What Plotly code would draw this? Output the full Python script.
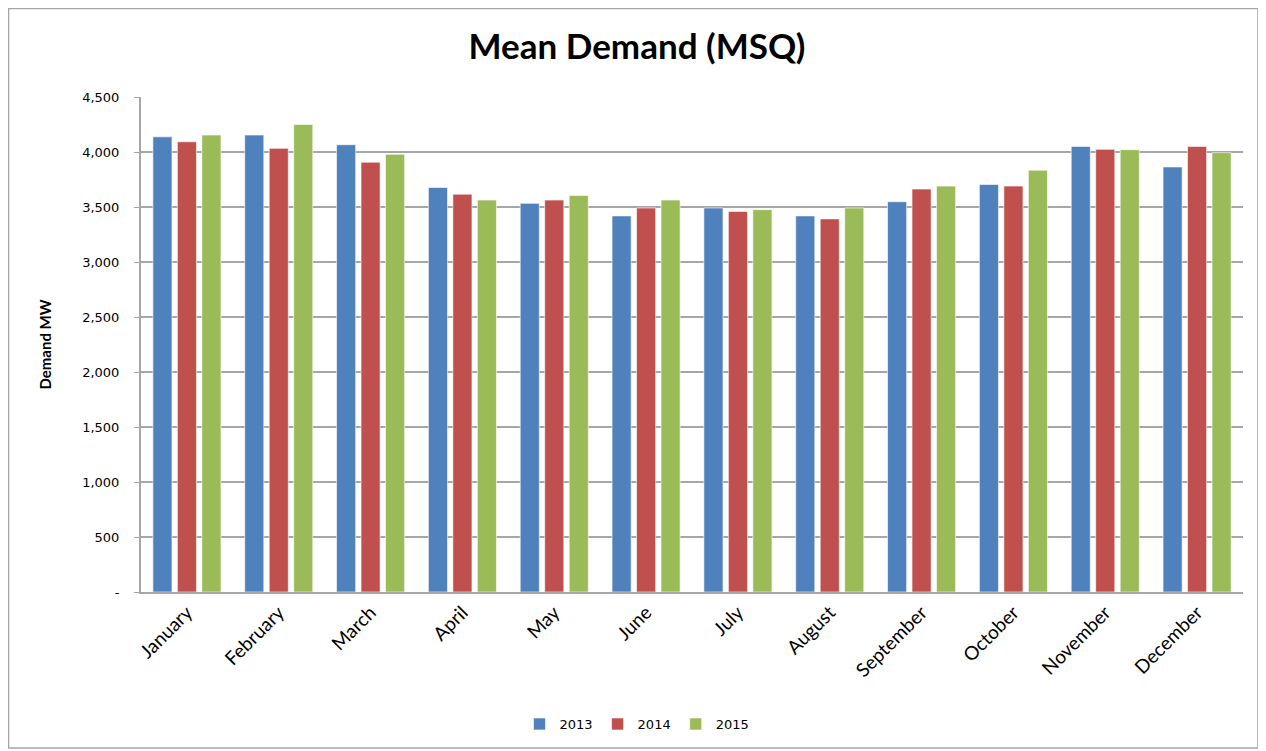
import plotly.graph_objects as go

months = ["January", "February", "March", "April", "May", "June", "July",
          "August", "September", "October", "November", "December"]
years = ["2013", "2014", "2015"]
d2013 = [4138, 4154, 4066, 3677, 3533, 3419, 3491, 3419, 3548, 3705, 4051, 3864]
d2014 = [4093, 4033, 3907, 3617, 3563, 3491, 3460, 3392, 3663, 3690, 4024, 4051]
d2015 = [4154, 4250, 3979, 3563, 3605, 3563, 3476, 3491, 3690, 3834, 4021, 3994]
colors = ["#4F81BD", "#C0504D", "#9BBB59"]
ytick_vals = [0, 500, 1000, 1500, 2000, 2500, 3000, 3500, 4000, 4500]
ytick_text = ["-", "500", "1,000", "1,500", "2,000", "2,500", "3,000", "3,500", "4,000", "4,500"]

fig = go.Figure()
for name, vals, c in zip(years, [d2013, d2014, d2015], colors):
    fig.add_trace(go.Bar(x=months, y=vals, name=name,
                         marker=dict(color=c, line=dict(color="rgba(255,255,255,0.6)", width=1))))

fig.update_layout(
    width=1258, height=743,
    paper_bgcolor="white", plot_bgcolor="white",
    margin=dict(l=133, r=23, t=89, b=159),
    barmode="group", bargap=0.2, bargroupgap=0.22,
    title=dict(text="<b>Mean Demand (MSQ)</b>", xref="container", x=0.5, xanchor="center",
               yref="container", y=0.9475, yanchor="middle",
               font=dict(family="Lato, Open Sans, sans-serif", size=35, color="black")),
    font=dict(family="DejaVu Sans, Verdana, sans-serif", size=13, color="black"),
    legend=dict(orientation="h", xref="container", x=0.5, xanchor="center",
                yref="container", y=0.0363, yanchor="middle",
                font=dict(family="DejaVu Sans, Verdana, sans-serif", size=13),
                traceorder="normal"),
    showlegend=True,
)
fig.update_yaxes(range=[0, 4500], tickvals=ytick_vals, ticktext=ytick_text,
                 showgrid=True, gridcolor="#A6A6A6", gridwidth=2,
                 showline=True, linecolor="#A6A6A6", linewidth=2,
                 ticks="outside", ticklen=5, tickcolor="#A6A6A6",
                 ticklabelstandoff=12,
                 tickfont=dict(family="DejaVu Sans, Verdana, sans-serif", size=13),
                 title=dict(text="<b>Demand MW</b>", standoff=27,
                            font=dict(family="Lato, Open Sans, sans-serif", size=15)),
                 zeroline=False, mirror=False)
fig.update_xaxes(showline=True, linecolor="#A6A6A6", linewidth=2, tickangle=-45,
                 tickfont=dict(family="Lato, Open Sans, sans-serif", size=19),
                 ticks="", showgrid=False)
fig.add_shape(type="rect", xref="paper", yref="paper", x0=-0.1202, x1=1.0136, y0=-0.3152, y1=1.1788,
              line=dict(color="#A6A6A6", width=1.5), fillcolor="rgba(0,0,0,0)", layer="below")
fig.write_html("out.html")
